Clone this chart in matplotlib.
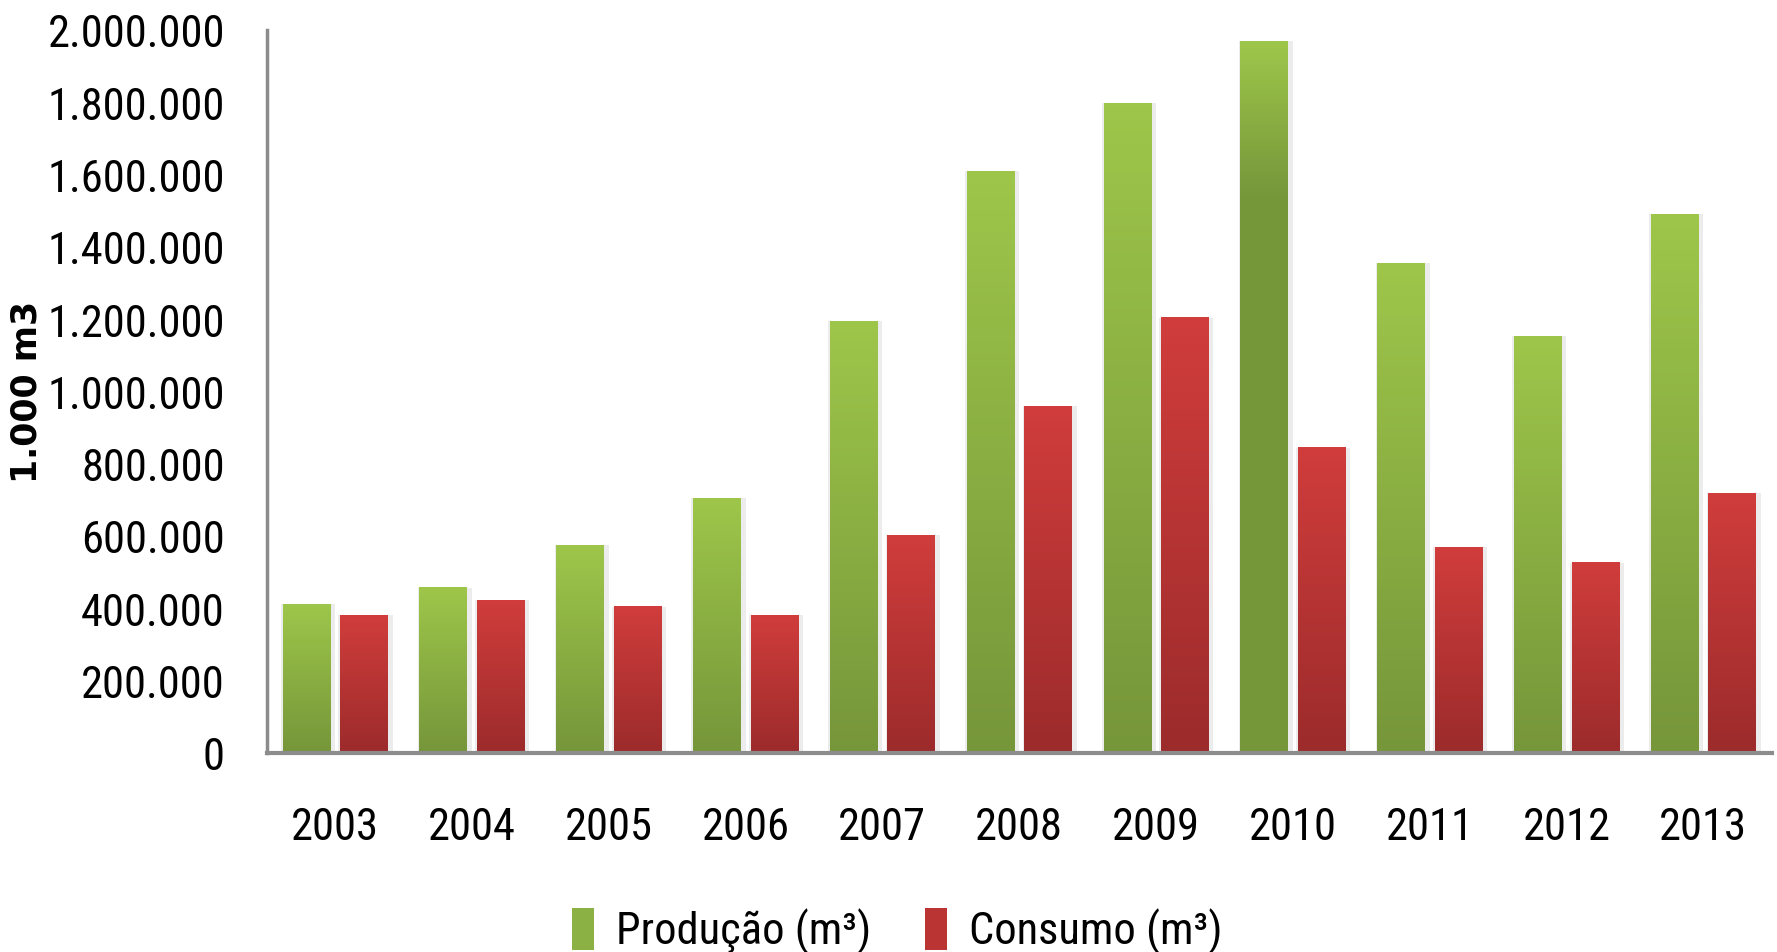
import numpy as np
import matplotlib
matplotlib.use('Agg')
from matplotlib import pyplot as plt
from matplotlib import font_manager
from matplotlib.colors import LinearSegmentedColormap
from matplotlib.patches import Rectangle
from matplotlib.ticker import FuncFormatter, MultipleLocator

# data (m3)
anos = ['2003', '2004', '2005', '2006', '2007', '2008', '2009', '2010', '2011', '2012', '2013']
producao = [411000, 457000, 574000, 704000, 1195000, 1609000, 1797000, 1969000, 1354000, 1152000, 1491000]
consumo = [381000, 423000, 404000, 381000, 602000, 960000, 1204000, 844000, 569000, 526000, 718000]

# look for a narrow font (the original is a condensed Calibri-like face)
nomes = {f.name: f for f in font_manager.fontManager.ttflist}
stretch = 'normal'
tam = 27
fonte = 'Liberation Sans'
for n in ['Liberation Sans Narrow', 'Roboto Condensed', 'Open Sans Condensed', 'DejaVu Sans Condensed']:
    if n in nomes:
        fonte, tam = n, 32
        break
else:
    cond = [f for f in font_manager.fontManager.ttflist
            if f.name == 'DejaVu Sans' and 'ondensed' in f.fname and f.weight in (400, 'normal')]
    if cond:
        fonte, stretch, tam = 'DejaVu Sans', 'condensed', 28

plt.rcParams['font.family'] = [fonte, 'DejaVu Sans']
plt.rcParams['font.stretch'] = stretch

verde = LinearSegmentedColormap.from_list('verde', ['#9ec64a', '#76963a'])
vermelho = LinearSegmentedColormap.from_list('vermelho', ['#d03d3c', '#9c2b2b'])

fig = plt.figure(figsize=(17.77, 9.53), dpi=100)
ax = fig.add_axes([0.150, 0.209, 0.847, 0.7585])

x = np.arange(len(anos))
w = 0.345
b1 = ax.bar(x - 0.21, producao, w, color='none', zorder=2)
b2 = ax.bar(x + 0.21, consumo, w, color='none', zorder=2)


def pinta(barras, cmap, paradas=None):
    for i, p in enumerate(barras.patches):
        x0, y0 = p.get_x(), p.get_y()
        bw, bh = p.get_width(), p.get_height()
        # soft shadow
        ax.add_patch(Rectangle((x0 - 0.012, 0), bw + 0.05, bh, facecolor='#ececec',
                               edgecolor='none', zorder=1))
        t = np.linspace(0, 1, 200)
        stop = 1.0 if paradas is None else paradas[i]
        g = np.clip(t / stop, 0, 1).reshape(-1, 1)
        ax.imshow(g, cmap=cmap, vmin=0, vmax=1, aspect='auto',
                  extent=[x0, x0 + bw, y0, y0 + bh], origin='upper', zorder=3,
                  interpolation='bilinear')


paradas_verde = [1, 1, 1, 1, 1, 1, 1, 0.22, 1, 1, 1]
pinta(b1, verde, paradas_verde)
pinta(b2, vermelho)

ax.set_xlim(-0.5, 10.5)
ax.set_ylim(0, 2000000)
ax.yaxis.set_major_locator(MultipleLocator(200000))
ax.yaxis.set_major_formatter(FuncFormatter(lambda v, pos: f'{v:,.0f}'.replace(',', '.')))
ax.set_xticks(x)
ax.set_xticklabels(anos)
ax.tick_params(axis='y', length=0, pad=30, labelsize=tam)
ax.tick_params(axis='x', length=0, pad=38, labelsize=tam)

for s in ['top', 'right']:
    ax.spines[s].set_visible(False)
ax.spines['left'].set_color('#8c8c8c')
ax.spines['left'].set_linewidth(2.5)
ax.spines['bottom'].set_color('#8c8c8c')
ax.spines['bottom'].set_linewidth(3)
ax.spines['left'].set_zorder(4)
ax.spines['bottom'].set_zorder(4)

ax.set_ylabel('1.000 m3', fontsize=25, fontweight='bold', family='DejaVu Sans',
              fontstretch='normal')
ax.yaxis.set_label_coords(-0.148, 0.5)

# legend
h1 = Rectangle((0, 0), 1, 1, facecolor='#8bb043', edgecolor='none')
h2 = Rectangle((0, 0), 1, 1, facecolor='#bb3434', edgecolor='none')
fig.legend([h1, h2], ['Produção (m³)', 'Consumo (m³)'], loc='center',
           bbox_to_anchor=(0.505, 0.022), ncol=2, frameon=False, fontsize=tam,
           handlelength=0.5, handleheight=1.1, handletextpad=0.5, columnspacing=1.2)

fig.savefig('out.png', dpi=100)
